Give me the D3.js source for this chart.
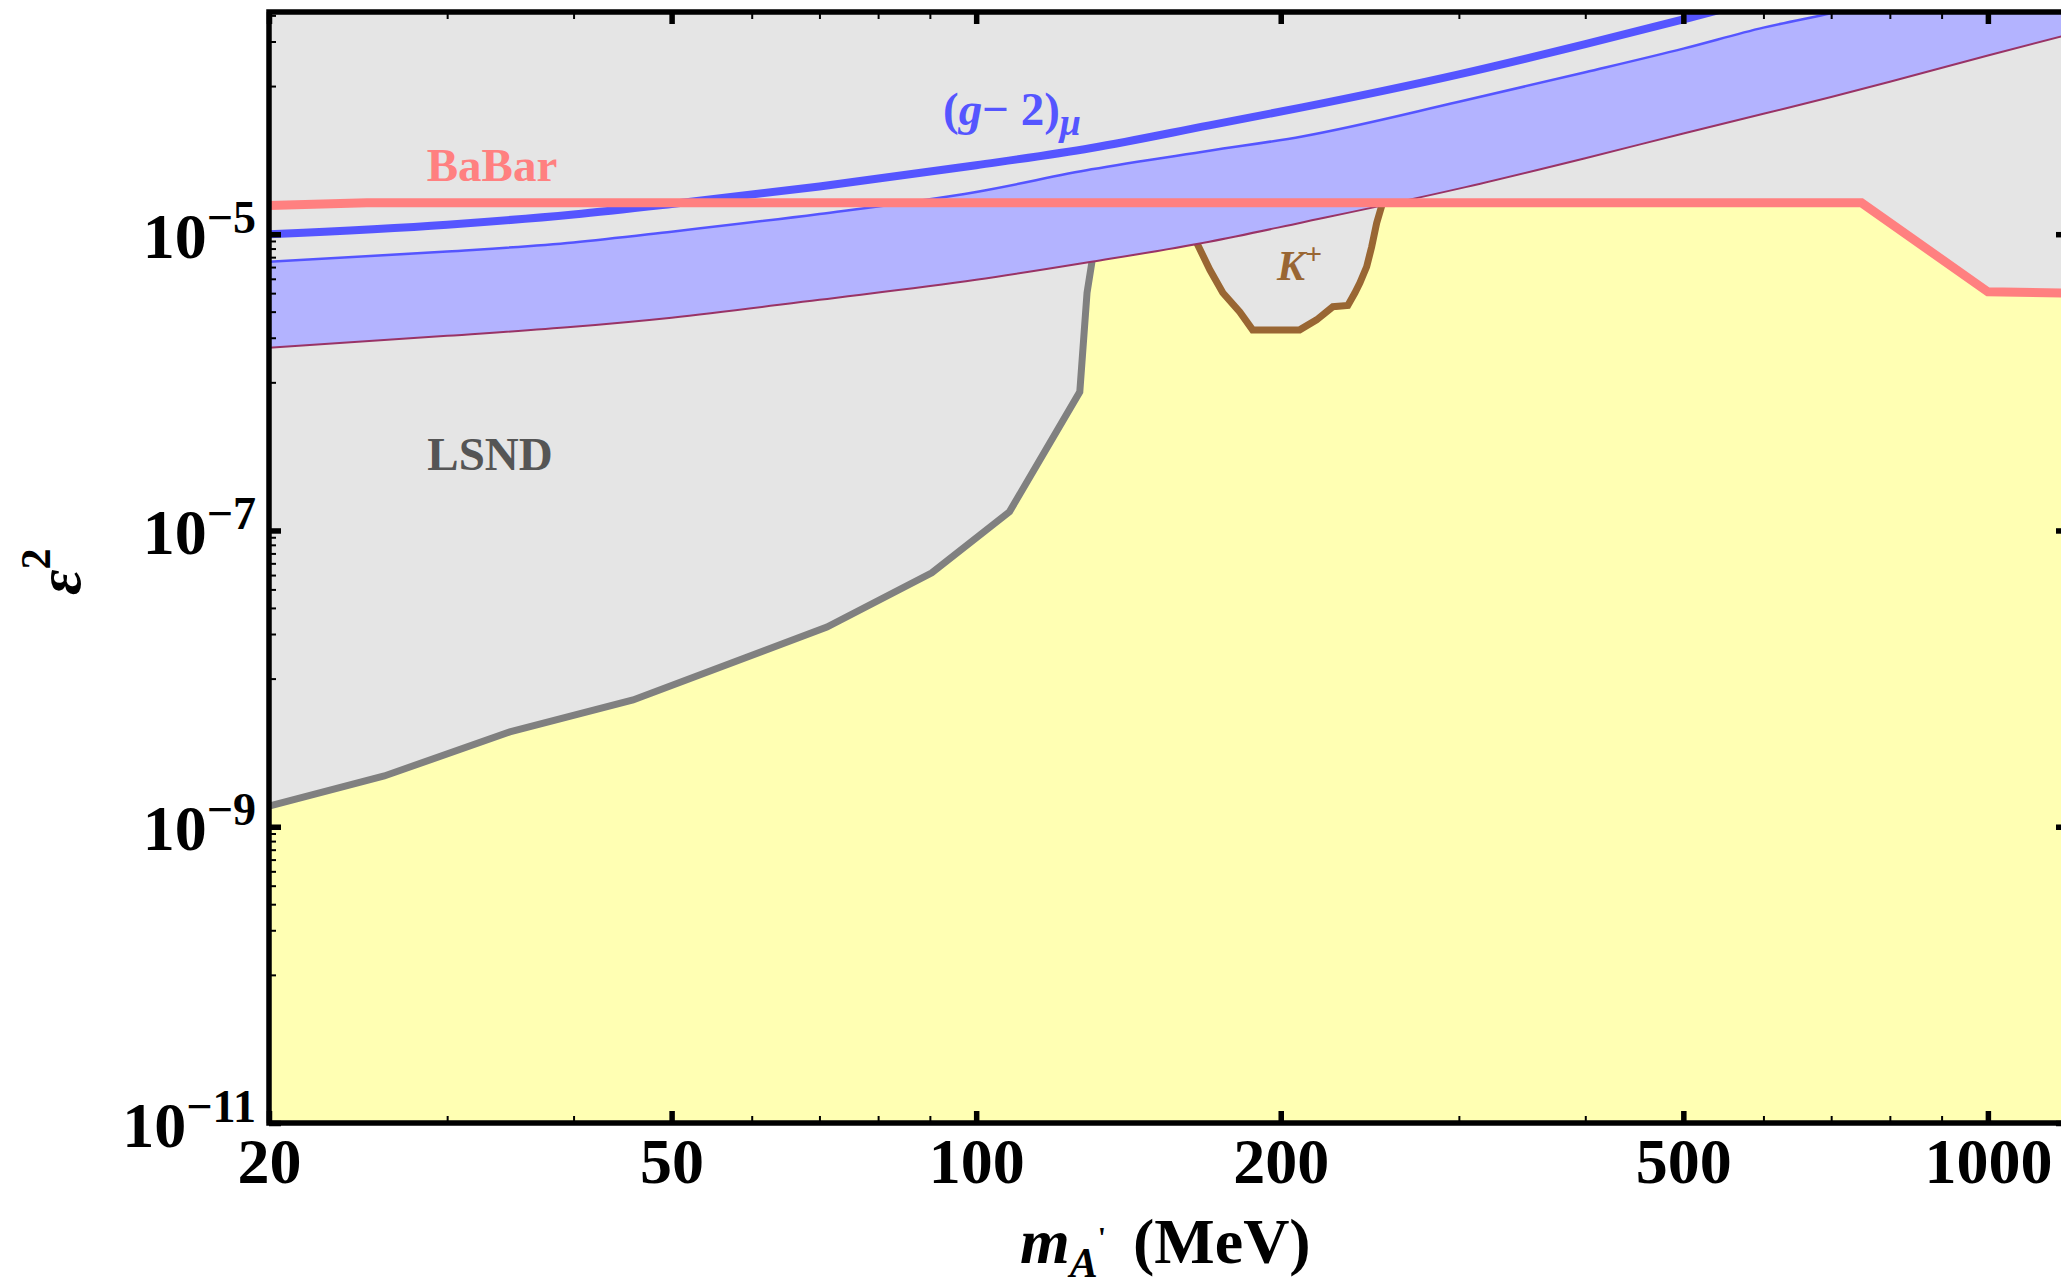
<!DOCTYPE html>
<html><head><meta charset="utf-8">
<script src="https://cdn.jsdelivr.net/npm/d3@7"></script>
<style>
body{margin:0;background:#fff}
svg{display:block}
text{font-family:"Liberation Serif","Times New Roman",serif;font-weight:bold}
</style>
</head><body>
<svg id="c" width="2061" height="1283"></svg>
<script>
// ---------- data ----------
const massTicksMajor = [20, 50, 100, 200, 500, 1000];
const massTicksMinor = [30, 40, 60, 70, 80, 90, 300, 400, 600, 700, 800, 900];
const epsTicksMajor = [1e-11, 1e-9, 1e-7, 1e-5];
const epsTickExponents = ["\u221211", "\u22129", "\u22127", "\u22125"];
const epsTicksMinor = [1,2,3,4,5,6,7,8,9].flatMap(k => [k*1e-10, k*1e-8, k*1e-6]).concat([1e-4, 2e-4, 3e-4]);

// LSND exclusion boundary
const lsndMass = [20, 26.0, 34.6, 45.8, 71.2, 90.4, 107.9, 126.6, 128.7, 130.1, 131.3];
const lsndEps  = [1.38e-9, 2.20e-9, 4.37e-9, 7.18e-9, 2.23e-8, 5.18e-8, 1.34e-7, 8.63e-7, 4.02e-6, 6.41e-6, 1.63e-5];

// K+ exclusion boundary
const kMass = [160.8, 165.2, 170.2, 175.3, 182.2, 187.6, 208.8, 217, 225.2, 233, 236.8, 239.5, 243.2, 246, 248.8, 252.2];
const kEps  = [1.63e-5, 8.75e-6, 5.75e-6, 4.02e-6, 2.99e-6, 2.26e-6, 2.26e-6, 2.64e-6, 3.24e-6, 3.30e-6, 4.02e-6, 4.70e-6, 6.03e-6, 8.22e-6, 1.19e-5, 1.63e-5];

// BaBar limit
const babarMass = [20, 25, 750, 1000, 1200];
const babarEps  = [1.56e-5, 1.63e-5, 1.63e-5, 4.08e-6, 4.0e-6];

// (g-2)_mu band and thick line
const gm2Mass  = [20, 30, 40, 50, 70, 100, 130, 170, 210, 300, 400, 500, 600, 700, 800, 1000, 1200];
const gm2Upper = [6.51e-6, 7.63e-6, 8.79e-6, 1.04e-5, 1.37e-5, 1.93e-5, 2.74e-5, 3.66e-5, 4.57e-5, 7.83e-5, 1.24e-4, 1.79e-4, 2.48e-4, 3.10e-4, 3.8e-4, 5.5e-4, 7.5e-4];
const gm2Lower = [1.71e-6, 2.06e-6, 2.37e-6, 2.73e-6, 3.61e-6, 4.92e-6, 6.51e-6, 8.89e-6, 1.20e-5, 2.03e-5, 3.26e-5, 4.78e-5, 6.50e-5, 8.43e-5, 1.07e-4, 1.61e-4, 2.22e-4];
const gm2Thick = [1.0e-5, 1.16e-5, 1.36e-5, 1.60e-5, 2.10e-5, 2.92e-5, 3.82e-5, 5.43e-5, 7.18e-5, 1.20e-4, 1.92e-4, 2.82e-4, 3.9e-4, 5.0e-4, 6.2e-4, 9e-4, 1.2e-3];

// ---------- layout ----------
const L = 269, R = 2068, T = 12, B = 1123;
const svg = d3.select("#c");
const x = d3.scaleLog().domain([20, 1200]).range([L, R]);
const y = d3.scaleLog().domain([1e-11, Math.pow(10, -3.5)]).range([B, T]);

const zip = (ms, es) => ms.map((m, i) => ({m, e: es[i]}));

svg.append("defs").append("clipPath").attr("id", "clip")
  .append("rect").attr("x", L).attr("y", T).attr("width", R - L).attr("height", B - T);

const plot = svg.append("g").attr("clip-path", "url(#clip)");

// background (excluded, grey)
plot.append("rect").attr("x", L).attr("y", T).attr("width", R - L).attr("height", B - T).attr("fill", "#e5e5e5");

// allowed (yellow) region
const allowed = zip(lsndMass, lsndEps)
  .concat(zip(kMass, kEps))
  .concat(zip(babarMass, babarEps).filter(d => d.m >= 750));
plot.append("path")
  .attr("d", d3.area().x(d => x(d.m)).y0(y(1e-11)).y1(d => y(d.e))(allowed))
  .attr("fill", "#ffffb3");

const line = d3.line().x(d => x(d.m)).y(d => y(d.e));

// LSND line
plot.append("path").attr("d", line(zip(lsndMass, lsndEps)))
  .attr("fill", "none").attr("stroke", "#808080").attr("stroke-width", 7).attr("stroke-linejoin", "miter");

// K+ line
plot.append("path").attr("d", line(zip(kMass, kEps)))
  .attr("fill", "none").attr("stroke", "#996633").attr("stroke-width", 7).attr("stroke-linejoin", "miter");

// (g-2) band
const band = gm2Mass.map((m, i) => ({m, lo: gm2Lower[i], hi: gm2Upper[i]}));
plot.append("path")
  .attr("d", d3.area().x(d => x(d.m)).y0(d => y(d.lo)).y1(d => y(d.hi)).curve(d3.curveMonotoneX)(band))
  .attr("fill", "#b3b3ff");
const smooth = d3.line().x(d => x(d.m)).y(d => y(d.e)).curve(d3.curveMonotoneX);
plot.append("path").attr("d", smooth(zip(gm2Mass, gm2Lower)))
  .attr("fill", "none").attr("stroke", "#993366").attr("stroke-width", 2);
plot.append("path").attr("d", smooth(zip(gm2Mass, gm2Upper)))
  .attr("fill", "none").attr("stroke", "#5555ff").attr("stroke-width", 2.5);
plot.append("path").attr("d", smooth(zip(gm2Mass, gm2Thick)))
  .attr("fill", "none").attr("stroke", "#5555ff").attr("stroke-width", 8);

// BaBar line
plot.append("path").attr("d", line(zip(babarMass, babarEps)))
  .attr("fill", "none").attr("stroke", "#ff8080").attr("stroke-width", 9).attr("stroke-linejoin", "miter");

// ---------- region labels ----------
svg.append("text").attr("x", 492).attr("y", 181).attr("text-anchor", "middle")
  .attr("font-size", 47).attr("fill", "#ff8080").text("BaBar");

svg.append("text").attr("x", 490).attr("y", 470).attr("text-anchor", "middle")
  .attr("font-size", 47).attr("fill", "#555555").text("LSND");

const g2 = svg.append("text").attr("x", 943).attr("y", 125).attr("font-size", 47).attr("fill", "#5555ff");
g2.append("tspan").text("(");
g2.append("tspan").attr("font-style", "italic").text("g");
g2.append("tspan").text("\u2212 2)");
g2.append("tspan").attr("font-style", "italic").attr("font-size", 38).attr("dy", 10).text("\u03bc");

const kl = svg.append("text").attr("x", 1277).attr("y", 280).attr("font-size", 42).attr("fill", "#996633");
kl.append("tspan").attr("font-style", "italic").text("K");
kl.append("tspan").attr("font-size", 30).attr("dy", -16).text("+");

// ---------- frame ----------
svg.append("rect").attr("x", L).attr("y", T).attr("width", R - L).attr("height", B - T)
  .attr("fill", "none").attr("stroke", "#000").attr("stroke-width", 5.5);

// ---------- axes ----------
function styleTicks(g, w) {
  g.select(".domain").remove();
  g.selectAll(".tick line").attr("stroke", "#000").attr("stroke-width", w);
}
const noLabel = () => "";

// bottom
const gxb = svg.append("g").attr("transform", `translate(0,${B})`)
  .call(d3.axisBottom(x).tickValues(massTicksMajor).tickFormat(d3.format("d")).tickSizeInner(-12).tickSizeOuter(0).tickPadding(0));
styleTicks(gxb, 5.5);
gxb.attr("font-size", 64).attr("font-family", "Liberation Serif, Times New Roman, serif").attr("font-weight", "bold");
gxb.selectAll(".tick text").attr("y", 60).attr("dy", 0).attr("fill", "#000");
const gxbm = svg.append("g").attr("transform", `translate(0,${B})`)
  .call(d3.axisBottom(x).tickValues(massTicksMinor).tickFormat(noLabel).tickSizeInner(-7).tickSizeOuter(0));
styleTicks(gxbm, 2);

// top
const gxt = svg.append("g").attr("transform", `translate(0,${T})`)
  .call(d3.axisTop(x).tickValues(massTicksMajor).tickFormat(noLabel).tickSizeInner(-12).tickSizeOuter(0));
styleTicks(gxt, 5.5);
const gxtm = svg.append("g").attr("transform", `translate(0,${T})`)
  .call(d3.axisTop(x).tickValues(massTicksMinor).tickFormat(noLabel).tickSizeInner(-7).tickSizeOuter(0));
styleTicks(gxtm, 2);

// left
const gyl = svg.append("g").attr("transform", `translate(${L},0)`)
  .call(d3.axisLeft(y).tickValues(epsTicksMajor).tickFormat(noLabel).tickSizeInner(-12).tickSizeOuter(0).tickPadding(13));
styleTicks(gyl, 5.5);
gyl.attr("font-family", "Liberation Serif, Times New Roman, serif").attr("font-weight", "bold").attr("font-size", 64);
gyl.selectAll(".tick text").each(function(d, i) {
  const t = d3.select(this);
  t.text(null).attr("x", -13).attr("y", 23).attr("dy", 0).attr("text-anchor", "end").attr("fill", "#000");
  t.append("tspan").text("10");
  t.append("tspan").attr("dy", -25).attr("font-size", 46).text(epsTickExponents[i]);
});
const gylm = svg.append("g").attr("transform", `translate(${L},0)`)
  .call(d3.axisLeft(y).tickValues(epsTicksMinor).tickFormat(noLabel).tickSizeInner(-7).tickSizeOuter(0));
styleTicks(gylm, 2);

// right
const gyr = svg.append("g").attr("transform", `translate(${R},0)`)
  .call(d3.axisRight(y).tickValues(epsTicksMajor).tickFormat(noLabel).tickSizeInner(-12).tickSizeOuter(0));
styleTicks(gyr, 5.5);
const gyrm = svg.append("g").attr("transform", `translate(${R},0)`)
  .call(d3.axisRight(y).tickValues(epsTicksMinor).tickFormat(noLabel).tickSizeInner(-7).tickSizeOuter(0));
styleTicks(gyrm, 2);

// ---------- axis titles ----------
const xt = svg.append("text").attr("x", 1020).attr("y", 1263).attr("font-size", 64).attr("fill", "#000");
xt.append("tspan").attr("font-style", "italic").text("m");
xt.append("tspan").attr("font-style", "italic").attr("font-size", 42).attr("dy", 14).text("A");
xt.append("tspan").attr("font-size", 30).attr("dy", -30).text("'");
xt.append("tspan").attr("x", 1133).attr("dy", 16).text("(MeV)");

const yt = svg.append("text").attr("transform", "translate(80,595) rotate(-90)")
  .attr("font-size", 62).attr("fill", "#000");
yt.append("tspan").attr("font-style", "italic").text("\u03b5");
yt.append("tspan").attr("font-size", 42).attr("dy", -30).text("2");
</script>
</body></html>
